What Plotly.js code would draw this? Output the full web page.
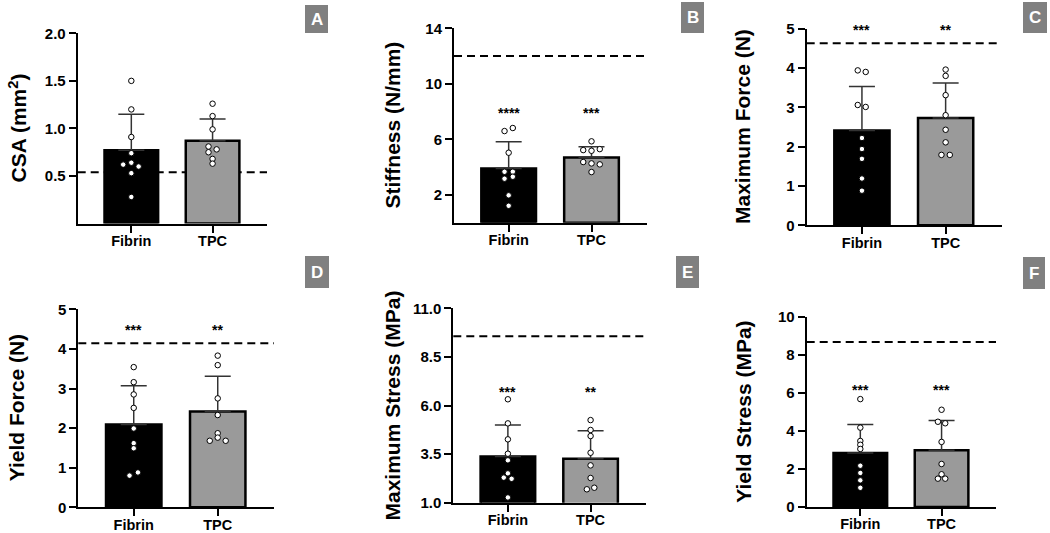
<!DOCTYPE html>
<html>
<head>
<meta charset="utf-8">
<script src="https://cdn.plot.ly/plotly-3.0.1.min.js"></script>
<style>
  html, body { margin: 0; padding: 0; background: #fff; }
  #chart { width: 1050px; height: 533px; }
</style>
</head>
<body>
<div id="chart"></div>
<script>
// ---------- DATA ----------
const groups = ['Fibrin', 'TPC'];

// A: CSA (mm2)
const csaMean = [0.77, 0.87];
const csaSD = [0.38, 0.23];
const csaFibrin = [1.50, 1.20, 0.91, 0.74, 0.62, 0.64, 0.60, 0.53, 0.28];
const csaFibrinJitter = [0, 0, 0, 0, -0.10, 0, 0.09, 0, 0];
const csaTPC = [1.26, 1.13, 0.99, 0.81, 0.78, 0.75, 0.68, 0.63];
const csaTPCJitter = [0, 0, 0, -0.05, 0.05, -0.05, 0, 0];
const csaRef = 0.54;

// B: Stiffness (N/mm)
const stiffMean = [3.91, 4.70];
const stiffSD = [1.92, 0.77];
const stiffFibrin = [6.60, 6.82, 5.04, 3.67, 3.67, 3.17, 3.31, 1.97, 1.22];
const stiffFibrinJitter = [-0.05, 0.05, 0, -0.05, 0.05, -0.05, 0.05, 0, 0];
const stiffTPC = [5.86, 5.23, 5.18, 5.30, 4.37, 4.27, 4.20, 3.65];
const stiffTPCJitter = [0, -0.10, 0, 0.10, -0.10, 0, 0.10, 0];
const stiffRef = 12;
const stiffStars = ['****', '***'];

// C: Maximum Force (N)
const maxForceMean = [2.41, 2.73];
const maxForceSD = [1.12, 0.89];
const maxForceFibrin = [3.94, 3.90, 3.06, 3.01, 2.22, 1.94, 1.69, 1.19, 0.88];
const maxForceFibrinJitter = [-0.05, 0.045, -0.05, 0.045, 0, 0, 0, 0, 0];
const maxForceTPC = [3.96, 3.80, 3.31, 2.80, 2.43, 2.11, 1.79, 1.79];
const maxForceTPCJitter = [0, 0, 0, 0, 0, 0, -0.05, 0.05];
const maxForceRef = 4.63;
const maxForceStars = ['***', '**'];

// D: Yield Force (N)
const yieldForceMean = [2.09, 2.42];
const yieldForceSD = [0.98, 0.89];
const yieldForceFibrin = [3.54, 3.16, 2.85, 2.51, 1.99, 1.62, 1.49, 0.80, 0.88];
const yieldForceFibrinJitter = [0, 0, 0, 0, 0, 0, 0, -0.05, 0.05];
const yieldForceTPC = [3.83, 3.59, 2.75, 2.33, 1.87, 1.76, 1.68, 1.68];
const yieldForceTPCJitter = [0, 0, 0, 0, 0, 0, -0.095, 0.095];
const yieldForceRef = 4.14;
const yieldForceStars = ['***', '**'];

// E: Maximum Stress (MPa)
const maxStressMean = [3.38, 3.26];
const maxStressSD = [1.62, 1.44];
const maxStressFibrin = [6.32, 5.08, 4.26, 3.52, 3.18, 2.51, 2.29, 2.23, 1.27];
const maxStressFibrinJitter = [0, 0, 0, 0, 0, 0, -0.05, 0.045, 0];
const maxStressTPC = [5.25, 4.74, 4.43, 3.57, 2.92, 2.27, 1.69, 1.77];
const maxStressTPCJitter = [0, 0, 0, 0, 0, 0, -0.045, 0.045];
const maxStressRef = 9.56;
const maxStressStars = ['***', '**'];

// F: Yield Stress (MPa)
const yieldStressMean = [2.84, 2.98];
const yieldStressSD = [1.49, 1.56];
const yieldStressFibrin = [5.67, 4.17, 3.47, 3.27, 3.05, 2.17, 1.79, 1.40, 1.01];
const yieldStressFibrinJitter = [0, 0, 0, 0, 0, 0, 0, 0, 0];
const yieldStressTPC = [5.11, 4.48, 4.40, 3.42, 2.26, 1.72, 1.49, 1.49];
const yieldStressTPCJitter = [0, -0.045, 0.045, 0, 0, 0, -0.045, 0.045];
const yieldStressRef = 8.67;
const yieldStressStars = ['***', '***'];

// ---------- PANEL DEFINITIONS ----------
const W = 1050, H = 533;
const px = v => v / W;
const py = v => 1 - v / H;

const panels = [
  { letter: 'A', title: 'CSA (mm<sup>2</sup>)', mean: csaMean, sd: csaSD,
    fib: csaFibrin, fibJ: csaFibrinJitter, tpc: csaTPC, tpcJ: csaTPCJitter, ref: csaRef,
    stars: null, starY: 0, yrange: [0, 2], yticks: [0.5, 1.0, 1.5, 2.0], tickformat: '.1f',
    dom: { x: [77.7, 267], y: [33.3, 223.6] }, titleX: 18, box: [305, 5, 328, 33] },
  { letter: 'B', title: 'Stiffness (N/mm)', mean: stiffMean, sd: stiffSD,
    fib: stiffFibrin, fibJ: stiffFibrinJitter, tpc: stiffTPC, tpcJ: stiffTPCJitter, ref: stiffRef,
    stars: stiffStars, starY: 8.2, yrange: [0, 14], yticks: [2, 6, 10, 14], tickformat: '',
    dom: { x: [454, 647], y: [28.3, 222.7] }, titleX: 392, box: [681, 2, 704, 33] },
  { letter: 'C', title: 'Maximum Force (N)', mean: maxForceMean, sd: maxForceSD,
    fib: maxForceFibrin, fibJ: maxForceFibrinJitter, tpc: maxForceTPC, tpcJ: maxForceTPCJitter, ref: maxForceRef,
    stars: maxForceStars, starY: 5.06, yrange: [0, 5], yticks: [0, 1, 2, 3, 4, 5], tickformat: '',
    dom: { x: [806.7, 1001.7], y: [28.7, 225.3] }, titleX: 742, box: [1023, 2, 1047, 33] },
  { letter: 'D', title: 'Yield Force (N)', mean: yieldForceMean, sd: yieldForceSD,
    fib: yieldForceFibrin, fibJ: yieldForceFibrinJitter, tpc: yieldForceTPC, tpcJ: yieldForceTPCJitter, ref: yieldForceRef,
    stars: yieldForceStars, starY: 4.59, yrange: [0, 5], yticks: [0, 1, 2, 3, 4, 5], tickformat: '',
    dom: { x: [78.3, 274], y: [309.3, 507.3] }, titleX: 16, box: [305, 256, 329, 288] },
  { letter: 'E', title: 'Maximum Stress (MPa)', mean: maxStressMean, sd: maxStressSD,
    fib: maxStressFibrin, fibJ: maxStressFibrinJitter, tpc: maxStressTPC, tpcJ: maxStressTPCJitter, ref: maxStressRef,
    stars: maxStressStars, starY: 6.92, yrange: [1, 11], yticks: [1.0, 3.5, 6.0, 8.5, 11.0], tickformat: '.1f',
    dom: { x: [453.3, 646], y: [308.3, 502.7] }, titleX: 392, box: [676, 256, 699, 288] },
  { letter: 'F', title: 'Yield Stress (MPa)', mean: yieldStressMean, sd: yieldStressSD,
    fib: yieldStressFibrin, fibJ: yieldStressFibrinJitter, tpc: yieldStressTPC, tpcJ: yieldStressTPCJitter, ref: yieldStressRef,
    stars: yieldStressStars, starY: 6.36, yrange: [0, 10], yticks: [0, 2, 4, 6, 8, 10], tickformat: '',
    dom: { x: [806.7, 996], y: [316.7, 507] }, titleX: 744, box: [1023, 257, 1045, 289] }
];

const FONT = 'Liberation Sans, Arial, Helvetica, sans-serif';
const data = [];
const layout = {
  width: W, height: H,
  margin: { l: 0, r: 0, t: 0, b: 0 },
  paper_bgcolor: '#ffffff', plot_bgcolor: 'rgba(0,0,0,0)',
  showlegend: false,
  font: { family: FONT, color: '#000' },
  shapes: [], annotations: []
};

panels.forEach((p, i) => {
  const n = i === 0 ? '' : String(i + 1);
  const xa = 'x' + n, ya = 'y' + n;

  // bars
  data.push({
    type: 'bar', x: [0, 1], y: p.mean, xaxis: xa, yaxis: ya, width: 0.66,
    marker: { color: ['#000000', '#9a9a9a'], line: { color: '#000', width: 2.5 } },
    error_y: { type: 'data', symmetric: false, array: p.sd, arrayminus: [0, 0],
               color: '#333', thickness: 1.5, width: 13 },
    hoverinfo: 'skip'
  });
  // individual points
  data.push({
    type: 'scatter', mode: 'markers', xaxis: xa, yaxis: ya,
    x: p.fib.map((v, k) => 0 + p.fibJ[k]), y: p.fib,
    marker: { size: 5.5, color: '#fff', line: { color: '#000', width: 1 } },
    hoverinfo: 'skip'
  });
  data.push({
    type: 'scatter', mode: 'markers', xaxis: xa, yaxis: ya,
    x: p.tpc.map((v, k) => 1 + p.tpcJ[k]), y: p.tpc,
    marker: { size: 5.5, color: '#fff', line: { color: '#000', width: 1 } },
    hoverinfo: 'skip'
  });

  layout['xaxis' + n] = {
    domain: [px(p.dom.x[0]), px(p.dom.x[1])], anchor: ya,
    range: [-0.66, 1.67], tickvals: [0, 1], ticktext: groups,
    ticks: 'outside', ticklen: 7, tickwidth: 2, tickcolor: '#000',
    ticklabelstandoff: -4,
    showline: true, linewidth: 2, linecolor: '#000', showgrid: false, zeroline: false,
    tickfont: { family: FONT, size: 14.5, color: '#000', weight: 'bold' }, fixedrange: true
  };
  layout['yaxis' + n] = {
    domain: [py(p.dom.y[1]), py(p.dom.y[0])], anchor: xa,
    range: p.yrange, tickvals: p.yticks, tickformat: p.tickformat,
    ticks: 'outside', ticklen: 7, tickwidth: 2, tickcolor: '#000',
    showline: true, linewidth: 2, linecolor: '#000', showgrid: false, zeroline: false,
    tickfont: { family: FONT, size: 15, color: '#000', weight: 'bold' }, fixedrange: true
  };

  // dashed reference line
  layout.shapes.push({
    type: 'line', xref: xa + ' domain', yref: ya, x0: 0, x1: 1, y0: p.ref, y1: p.ref,
    line: { color: '#000', width: 2, dash: '8px,5px' }, layer: 'below'
  });

  // axis title
  layout.annotations.push({
    xref: 'paper', yref: 'paper', x: px(p.titleX), y: (py(p.dom.y[0]) + py(p.dom.y[1])) / 2,
    xanchor: 'center', yanchor: 'middle', textangle: -90, showarrow: false,
    text: p.title, font: { family: FONT, size: 21, color: '#000', weight: 'bold' }
  });

  // significance stars (placed in axis-domain units so they may sit above the range)
  if (p.stars) {
    const frac = (p.starY - p.yrange[0]) / (p.yrange[1] - p.yrange[0]);
    p.stars.forEach((s, k) => {
      layout.annotations.push({
        xref: xa, yref: ya + ' domain', x: k, y: frac, yshift: -4, showarrow: false,
        xanchor: 'center', yanchor: 'middle', text: s,
        font: { family: FONT, size: 14, color: '#000', weight: 'bold' }
      });
    });
  }

  // panel letter box
  layout.shapes.push({
    type: 'rect', xref: 'paper', yref: 'paper',
    x0: px(p.box[0]), x1: px(p.box[2]), y0: py(p.box[3]), y1: py(p.box[1]),
    fillcolor: '#808080', line: { width: 0 }, layer: 'above'
  });
  layout.annotations.push({
    xref: 'paper', yref: 'paper', x: px((p.box[0] + p.box[2]) / 2), y: py((p.box[1] + p.box[3]) / 2),
    xanchor: 'center', yanchor: 'middle', showarrow: false, text: p.letter,
    font: { family: FONT, size: 17, color: '#fff', weight: 'bold' }
  });
});

Plotly.newPlot('chart', data, layout, { displayModeBar: false, staticPlot: true });
</script>
</body>
</html>
